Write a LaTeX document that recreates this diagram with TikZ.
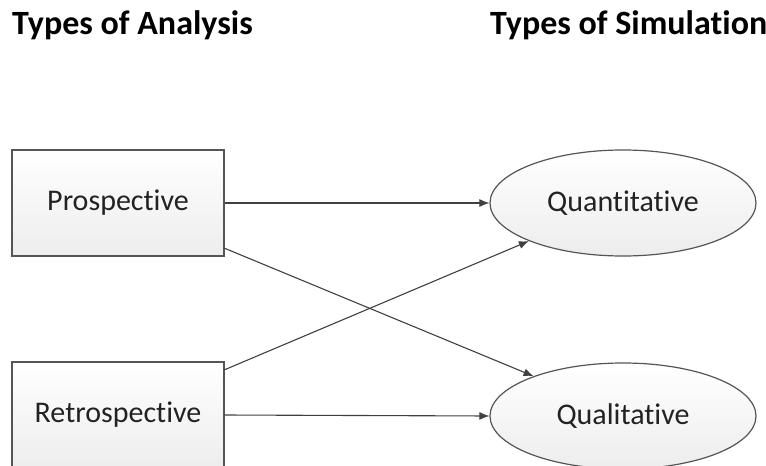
\documentclass[tikz,border=0pt]{standalone}
\usepackage{fontspec}
\setmainfont[Ligatures=NoCommon]{Carlito}
\usetikzlibrary{shapes.geometric,arrows.meta}
\definecolor{edgegray}{HTML}{555555}
\definecolor{arrowgray}{HTML}{404040}
\definecolor{textgray}{HTML}{222222}
\definecolor{fillbottom}{HTML}{EDEDED}
\tikzset{
  boxnode/.style={draw=edgegray, line width=1.2pt, top color=white, bottom color=fillbottom,
    minimum width=212pt, minimum height=106pt, inner sep=0pt, text=textgray,
    font=\fontsize{30}{36}\selectfont},
  ovalnode/.style={ellipse, draw=edgegray, line width=1.2pt, top color=white, bottom color=fillbottom,
    minimum width=266pt, minimum height=106pt, inner sep=0pt, text=textgray,
    font=\fontsize{30}{36}\selectfont},
  titlenode/.style={anchor=base west, inner sep=0pt, text=black,
    font=\fontsize{34}{40}\selectfont\bfseries},
  link/.style={draw=arrowgray, line width=1.1pt, -{Latex[length=10pt,width=8pt]}}
}
\begin{document}
\begin{tikzpicture}[x=1pt,y=-1pt]
\useasboundingbox (0,0) rectangle (766,466);
\clip (0,0) rectangle (766,466);
\node[titlenode] (t1) at (12,34) {Types of Analysis};
\node[titlenode] (t2) at (490,34) {Types of Simulation};
\node[boxnode] (p) at (118,203) {Prospective};
\node[boxnode] (r) at (118,415) {Retrospective};
\node[ovalnode] (q) at (623,203) {Quantitative};
\node[ovalnode] (l) at (623,416) {Qualitative};
\draw[link] (p.east) -- (q.west);
\draw[link] (r.east) -- (l.west);
\draw[link] (p.-23) -- (l.156);
\draw[link] (r.23) -- (q.202);
\end{tikzpicture}
\end{document}
